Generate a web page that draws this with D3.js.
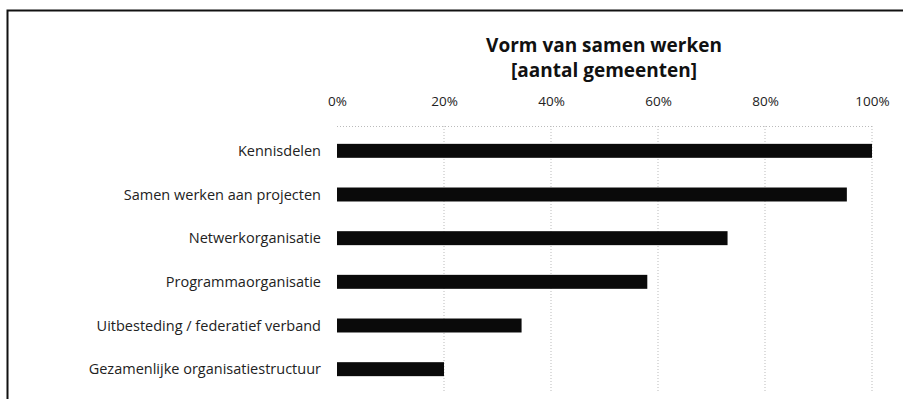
<!DOCTYPE html>
<html>
<head>
<meta charset="utf-8">
<script src="https://cdn.jsdelivr.net/npm/d3@7"></script>
<style>
  body { margin: 0; background: #fff; overflow: hidden; }
  svg { display: block; }
</style>
</head>
<body>
<div id="chart"></div>
<script>
const categories = [
  "Kennisdelen",
  "Samen werken aan projecten",
  "Netwerkorganisatie",
  "Programmaorganisatie",
  "Uitbesteding / federatief verband",
  "Gezamenlijke organisatiestructuur"
];
const values = [1.00, 0.953, 0.73, 0.58, 0.345, 0.20];
const tickValues = [0, 0.2, 0.4, 0.6, 0.8, 1.0];
const titleLines = ["Vorm van samen werken", "[aantal gemeenten]"];

const width = 903, height = 405;
const font = "'Open Sans', sans-serif";

const svg = d3.select("#chart").append("svg")
  .attr("width", width)
  .attr("height", height);

// frame: only top and left edges are in the picture
svg.append("path")
  .attr("d", "M7.5,399 L7.5,10.5 L903,10.5")
  .attr("fill", "none")
  .attr("stroke", "#111")
  .attr("stroke-width", 2);

const x = d3.scaleLinear().domain([0, 1]).range([337, 872]);
const y = d3.scaleBand().domain(categories).range([129, 391]).paddingInner(0.68).paddingOuter(0.34);

// title
svg.append("g").selectAll("text")
  .data(titleLines)
  .join("text")
  .attr("x", 604)
  .attr("y", (d, i) => 52 + i * 25)
  .attr("text-anchor", "middle")
  .attr("font-family", font)
  .attr("font-weight", "bold")
  .attr("font-size", 19)
  .attr("fill", "#111")
  .text(d => d);

// gridlines
svg.append("g").selectAll("line")
  .data(tickValues.slice(1))
  .join("line")
  .attr("x1", d => x(d)).attr("x2", d => x(d))
  .attr("y1", 126).attr("y2", 391)
  .attr("stroke", "#bbb")
  .attr("stroke-dasharray", "1,2");

svg.append("line")
  .attr("x1", x(0)).attr("x2", x(1))
  .attr("y1", 126.5).attr("y2", 126.5)
  .attr("stroke", "#bbb")
  .attr("stroke-dasharray", "1,2");

// top axis
const axis = d3.axisTop(x)
  .tickValues(tickValues)
  .tickFormat(d3.format(".0%"))
  .tickSize(0)
  .tickPadding(0);

const gx = svg.append("g")
  .attr("transform", "translate(0,106)")
  .call(axis);
gx.select(".domain").remove();
gx.selectAll("text")
  .attr("font-family", font)
  .attr("font-size", 13.5)
  .attr("fill", "#222");

// bars
svg.append("g").selectAll("rect")
  .data(values)
  .join("rect")
  .attr("x", x(0))
  .attr("y", (d, i) => y(categories[i]))
  .attr("width", d => x(d) - x(0))
  .attr("height", y.bandwidth())
  .attr("fill", "#0a0a0a");

// category labels
svg.append("g").selectAll("text")
  .data(categories)
  .join("text")
  .attr("x", 321)
  .attr("y", d => y(d) + y.bandwidth() / 2)
  .attr("dy", "0.35em")
  .attr("text-anchor", "end")
  .attr("font-family", font)
  .attr("font-size", 14.5)
  .attr("fill", "#222")
  .text(d => d);
</script>
</body>
</html>
